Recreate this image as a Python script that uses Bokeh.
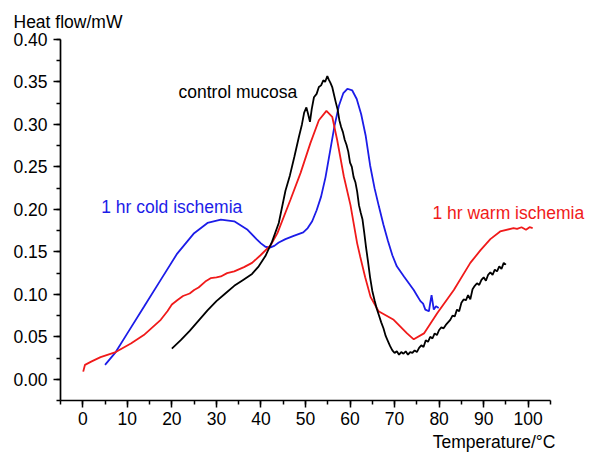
from bokeh.plotting import figure
from bokeh.models import (Label, SingleIntervalTicker, NumeralTickFormatter, Range1d,
                          LinearAxis, Title)
from bokeh.embed import file_html
from bokeh.resources import INLINE

# ---- data ----
cold_x = [5, 7.4, 10, 13.7, 17.5, 21.2, 25, 28, 31, 34, 37, 39, 40, 41, 42, 43, 44,
          45.5, 47.5, 49.5, 50.5, 51.5, 52.5, 53.5, 54.5, 55.5, 56.5, 57.5, 58.5, 59.4,
          60.5, 61.5, 62.5, 63.5, 64.5, 65.5, 66.5, 67.5, 68.5, 69.5, 70.5, 72.1, 73.2,
          74.3, 75.0, 75.8, 76.4, 76.9, 77.7, 78.0, 78.3, 78.8, 79.3, 79.9]
cold_y = [0.017, 0.032, 0.054, 0.085, 0.117, 0.148, 0.172, 0.184, 0.188, 0.186, 0.176,
          0.165, 0.160, 0.156, 0.155, 0.157, 0.161, 0.165, 0.169, 0.173, 0.178, 0.186,
          0.199, 0.215, 0.238, 0.268, 0.298, 0.322, 0.337, 0.342, 0.340, 0.330, 0.312,
          0.287, 0.252, 0.225, 0.203, 0.182, 0.163, 0.146, 0.133, 0.121, 0.113, 0.105,
          0.099, 0.092, 0.089, 0.082, 0.080, 0.090, 0.099, 0.082, 0.086, 0.084]

warm_x = [0.1, 0.5, 2, 4, 7.4, 10.8, 13.7, 17.5, 19, 20, 21.2, 22.5, 24, 25, 26, 27.5,
          28.7, 30, 31, 32.4, 34, 36.2, 38, 39.9, 42.2, 43.7, 46.6, 48.9, 51.1, 53.0,
          54.7, 56.0, 57.1, 58.6, 60.1, 61.6, 62.3, 63.4, 64.6, 66.4, 69.8, 72.8, 74.3,
          76.6, 79.6, 83.3, 87.0, 89.3, 91.5, 93.7, 96.7, 97.5, 98.5, 99.5, 100.3, 101]
warm_y = [0.009, 0.017, 0.021, 0.026, 0.032, 0.042, 0.052, 0.070, 0.080, 0.088, 0.093,
          0.098, 0.101, 0.105, 0.108, 0.115, 0.119, 0.120, 0.121, 0.125, 0.127, 0.132,
          0.137, 0.146, 0.158, 0.172, 0.211, 0.243, 0.278, 0.305, 0.316, 0.309, 0.282,
          0.239, 0.205, 0.160, 0.144, 0.120, 0.097, 0.080, 0.070, 0.054, 0.047, 0.054,
          0.078, 0.105, 0.137, 0.152, 0.165, 0.174, 0.178, 0.177, 0.179, 0.176, 0.179, 0.178]

ctrl_x = [20, 22, 24, 26, 28, 30, 32, 34, 36, 38, 39.5, 41, 42.5, 44, 45.5, 46.5, 47.5,
          48.5, 49.2, 49.7, 50.2, 50.6, 51.0, 51.4, 51.9, 52.5, 53.0, 53.5, 54.0, 54.4,
          54.9, 55.2, 55.6, 56.0, 56.4, 56.8, 57.2, 57.6, 58.0, 58.4, 58.8, 59.2, 59.6,
          60.0, 60.4, 60.8, 61.2, 61.6, 62.0, 62.4, 62.8, 63.2, 63.6, 64.0, 64.5, 65.0,
          65.5, 66.0, 66.5, 67.0, 67.5, 68.0, 68.5, 69.0, 69.5, 70.0, 70.5, 71.0, 71.5,
          72.0, 72.5, 73.0, 73.5, 74.0, 74.5, 75.0, 75.5, 76.0, 76.5, 77.0, 77.5, 78.0,
          78.5, 79.0, 79.5, 80.0, 80.5, 81.0, 81.5, 82.0, 82.5, 83.0, 83.5, 84.0, 84.5,
          85.0, 85.5, 86.0, 86.5, 87.0, 87.5, 88.0, 88.5, 89.0, 89.5, 90.0, 90.5, 91.0,
          91.5, 92.0, 92.5, 93.0, 93.5, 94.0, 94.5, 95.0]
ctrl_y = [0.036, 0.046, 0.057, 0.069, 0.081, 0.092, 0.101, 0.110, 0.117, 0.124, 0.133,
          0.145, 0.162, 0.184, 0.222, 0.240, 0.262, 0.285, 0.300, 0.314, 0.320, 0.312,
          0.303, 0.318, 0.332, 0.336, 0.344, 0.346, 0.352, 0.350, 0.357, 0.353, 0.349,
          0.344, 0.335, 0.326, 0.318, 0.305, 0.297, 0.291, 0.282, 0.276, 0.268, 0.255,
          0.250, 0.238, 0.232, 0.221, 0.205, 0.196, 0.188, 0.172, 0.155, 0.140, 0.120,
          0.104, 0.093, 0.083, 0.075, 0.067, 0.060, 0.051, 0.045, 0.039, 0.034, 0.031,
          0.033, 0.029, 0.032, 0.030, 0.033, 0.029, 0.032, 0.031, 0.034, 0.032, 0.037,
          0.040, 0.038, 0.046, 0.044, 0.050, 0.048, 0.054, 0.052, 0.058, 0.061, 0.060,
          0.064, 0.067, 0.070, 0.075, 0.074, 0.082, 0.080, 0.090, 0.094, 0.093, 0.099,
          0.094, 0.106, 0.110, 0.113, 0.111, 0.117, 0.120, 0.116, 0.123, 0.126, 0.123,
          0.129, 0.127, 0.133, 0.130, 0.137, 0.135]

FONT = "Liberation Sans"
FS = "17.5px"
BLUE = "#1c1ce8"
RED = "#f01a1a"

p = figure(width=592, height=457, x_range=Range1d(-5, 114.43), y_range=Range1d(-0.025, 0.40),
           output_backend="svg", toolbar_location=None, x_axis_location=None,
           min_border_left=60, min_border_right=0, min_border_top=39, min_border_bottom=56)
p.outline_line_color = None
p.grid.visible = False
p.background_fill_color = "white"
p.border_fill_color = "white"

p.line(cold_x, cold_y, line_color=BLUE, line_width=1.8)
p.line(warm_x, warm_y, line_color=RED, line_width=1.8)
p.line(ctrl_x, ctrl_y, line_color="black", line_width=1.8)

xaxis = LinearAxis(ticker=SingleIntervalTicker(interval=10, num_minor_ticks=2), bounds=(-5, 105))
p.add_layout(xaxis, "below")
p.yaxis.ticker = SingleIntervalTicker(interval=0.05, num_minor_ticks=2)
p.yaxis.formatter = NumeralTickFormatter(format="0.00")
for ax in (xaxis, p.yaxis[0]):
    ax.axis_line_width = 1.7
    ax.axis_line_color = "black"
    ax.major_tick_line_width = 1.5
    ax.minor_tick_line_width = 1.5
    ax.major_tick_line_color = "black"
    ax.minor_tick_line_color = "black"
    ax.major_tick_in = 0
    ax.minor_tick_in = 0
    ax.major_tick_out = 7
    ax.minor_tick_out = 4
    ax.major_label_text_font = FONT
    ax.major_label_text_font_size = FS
    ax.major_label_text_color = "black"
xaxis.major_label_standoff = 4
p.yaxis.major_label_standoff = 6

p.add_layout(Title(text="Temperature/°C", align="right", offset=37, standoff=8,
                   vertical_align="top", text_font=FONT, text_font_size=FS,
                   text_font_style="normal", text_color="black"), "below")

p.add_layout(Title(text="Heat flow/mW", align="left", offset=-47, standoff=16,
                   text_font=FONT, text_font_size=FS, text_font_style="normal",
                   text_color="black"), "above")

def lab(x, y, t, c):
    p.add_layout(Label(x=x, y=y, text=t, text_color=c, text_font=FONT,
                       text_font_size=FS, text_baseline="middle", text_align="left"))

lab(21.49, 0.338, "control mucosa", "black")
lab(4.14, 0.203, "1 hr cold ischemia", BLUE)
lab(78.5, 0.196, "1 hr warm ischemia", RED)

open("out.html", "w").write(file_html(p, INLINE))
